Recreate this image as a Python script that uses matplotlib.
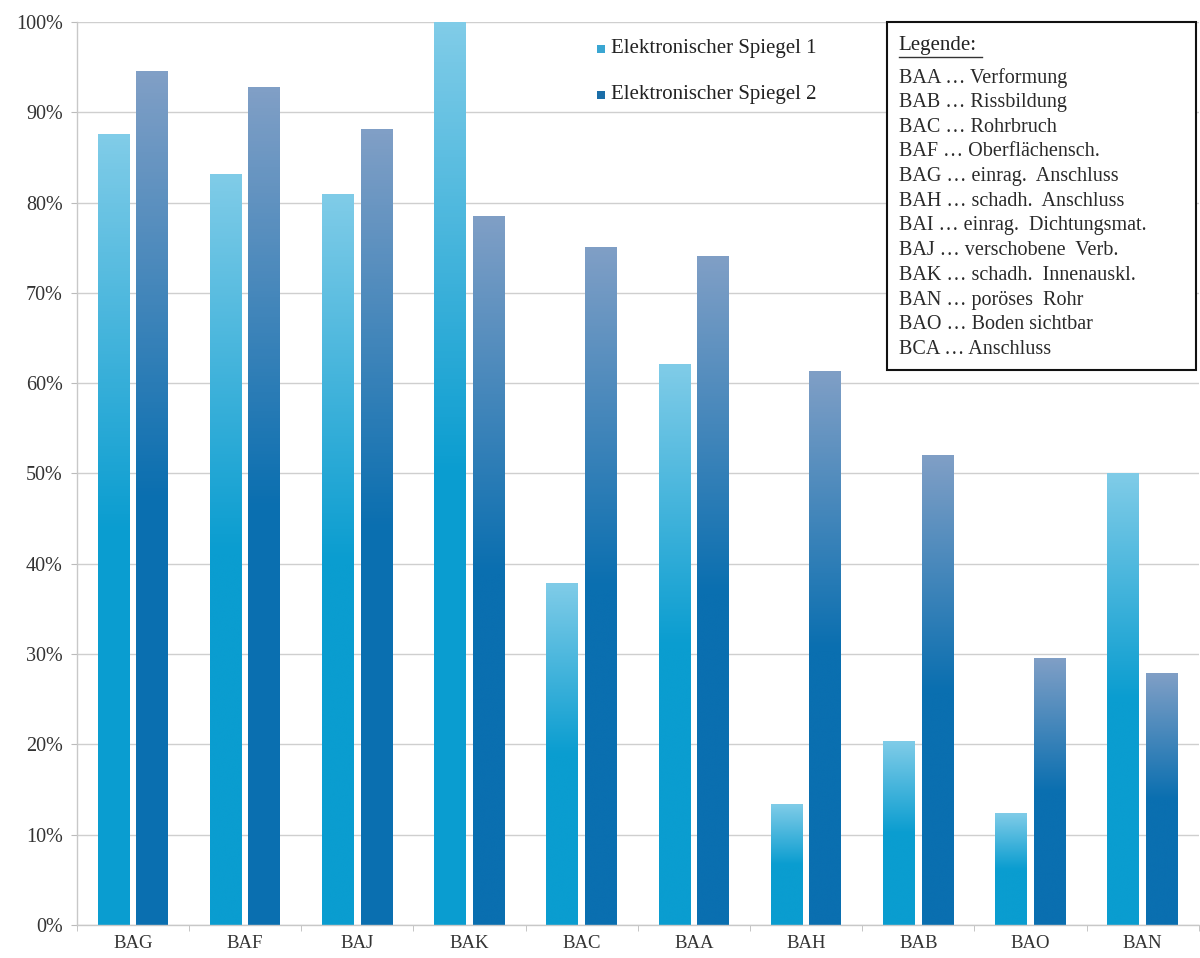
import numpy as np
import matplotlib
matplotlib.use("Agg")
import matplotlib.pyplot as plt
from matplotlib.colors import LinearSegmentedColormap
from matplotlib.ticker import PercentFormatter

plt.rcParams['font.family'] = ['Liberation Serif', 'DejaVu Serif']

categories = ['BAG', 'BAF', 'BAJ', 'BAK', 'BAC', 'BAA', 'BAH', 'BAB', 'BAO', 'BAN']
spiegel_1 = [87.5, 83.1, 80.9, 100.0, 37.8, 62.1, 13.3, 20.3, 12.4, 50.0]
spiegel_2 = [94.5, 92.8, 88.1, 78.5, 75.0, 74.0, 61.3, 52.0, 29.5, 27.8]
series_names = ['Elektronischer Spiegel 1', 'Elektronischer Spiegel 2']

legend_lines = [
    'BAA \u2026 Verformung',
    'BAB \u2026 Rissbildung',
    'BAC \u2026 Rohrbruch',
    'BAF \u2026 Oberfl\u00e4chensch.',
    'BAG \u2026 einrag.  Anschluss',
    'BAH \u2026 schadh.  Anschluss',
    'BAI \u2026 einrag.  Dichtungsmat.',
    'BAJ \u2026 verschobene  Verb.',
    'BAK \u2026 schadh.  Innenauskl.',
    'BAN \u2026 por\u00f6ses  Rohr',
    'BAO \u2026 Boden sichtbar',
    'BCA \u2026 Anschluss',
]

# light at the top, solid from about the middle of the bar down
cmap1 = LinearSegmentedColormap.from_list('s1', [(0, '#80cce8'), (0.5, '#0a9dd0'), (1, '#0a9dd0')])
cmap2 = LinearSegmentedColormap.from_list('s2', [(0, '#809fc6'), (0.5, '#0a6fb0'), (1, '#0a6fb0')])
legend_colors = ['#3aa6d2', '#1b6ea8']

fig = plt.figure(figsize=(12, 9.58), dpi=100)
ax = fig.add_axes([0.064, 0.0345, 0.935, 0.9425])

x = np.arange(len(categories))
w = 0.285
off = 0.172
grad = np.linspace(0, 1, 256).reshape(-1, 1)

for vals, sign, cm in [(spiegel_1, -1, cmap1), (spiegel_2, 1, cmap2)]:
    bars = ax.bar(x + sign * off, vals, w, color='none', edgecolor='none', zorder=2)
    for b in bars:
        x0 = b.get_x()
        h = b.get_height()
        ax.imshow(grad, cmap=cm, aspect='auto', interpolation='bicubic',
                  extent=(x0, x0 + b.get_width(), 0, h), origin='upper', zorder=2)

ax.set_xlim(-0.5, len(categories) - 0.5)
ax.set_ylim(0, 100)
ax.set_yticks(np.arange(0, 101, 10))
ax.yaxis.set_major_formatter(PercentFormatter(decimals=0))
ax.set_xticks(x)
ax.set_xticklabels(categories, fontsize=13.5, color='#333333')
ax.set_xticks(np.arange(-0.5, len(categories)), minor=True)
ax.tick_params(axis='x', which='major', length=0, pad=7)
ax.tick_params(axis='x', which='minor', length=4, color='#bbbbbb')
ax.tick_params(axis='y', labelsize=14.5, labelcolor='#333333', length=4, color='#bbbbbb', pad=6)

ax.grid(axis='y', color='#cfcfcf', linewidth=1.0, zorder=0)
ax.set_axisbelow(True)
for s in ['top', 'right']:
    ax.spines[s].set_visible(False)
for s in ['left', 'bottom']:
    ax.spines[s].set_color('#c8c8c8')
    ax.spines[s].set_linewidth(1.0)

# series legend (no frame)
for i, (name, c) in enumerate(zip(series_names, legend_colors)):
    yy = 0.9489 - i * 0.048
    fig.patches.append(plt.Rectangle((0.4975, yy - 0.0042), 0.0065, 0.0084, transform=fig.transFigure,
                                     facecolor=c, edgecolor='none'))
    fig.text(0.509, yy, name, fontsize=15, va='center', ha='left', color='#222222')

# code legend box
fig.patches.append(plt.Rectangle((0.739, 0.614), 0.258, 0.363, transform=fig.transFigure,
                                 facecolor='white', edgecolor='#111111', linewidth=1.5, zorder=5))
fig.text(0.749, 0.953, 'Legende:', fontsize=15, va='center', ha='left', color='#222222', zorder=6)
fig.lines.append(plt.Line2D([0.749, 0.818], [0.940, 0.940], transform=fig.transFigure,
                            color='#333333', linewidth=1.0, zorder=6))
for i, line in enumerate(legend_lines):
    fig.text(0.749, 0.919 - i * 0.0258, line, fontsize=14.5, va='center', ha='left',
             color='#2a2a2a', zorder=6)

fig.savefig('out.png', dpi=100)
